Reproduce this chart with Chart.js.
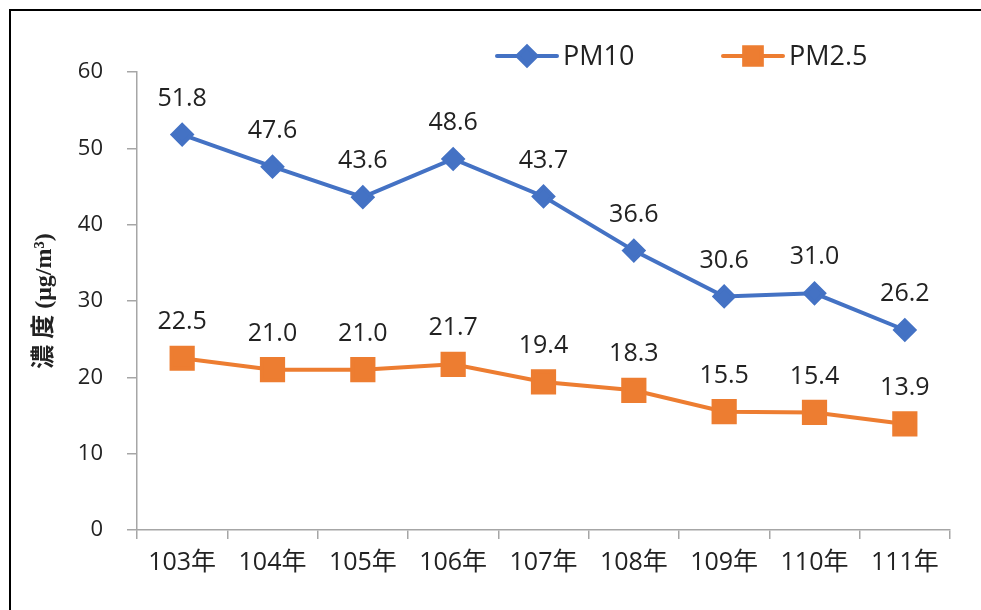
<!DOCTYPE html>
<html>
<head>
<meta charset="utf-8">
<script src="https://cdn.jsdelivr.net/npm/chart.js@4.4.0/dist/chart.umd.min.js"></script>
<style>
  html, body { margin: 0; padding: 0; background: #fff; overflow: hidden; }
</style>
</head>
<body>
<canvas id="myChart" width="981" height="610"></canvas>
<script>
// 年度
const years = ['103年', '104年', '105年', '106年', '107年', '108年', '109年', '110年', '111年'];
// 年平均濃度 (μg/m3)
const pm10 = [51.8, 47.6, 43.6, 48.6, 43.7, 36.6, 30.6, 31.0, 26.2];
const pm25 = [22.5, 21.0, 21.0, 21.7, 19.4, 18.3, 15.5, 15.4, 13.9];
const yMin = 0, yMax = 60, yStep = 10;

const textColor = '#222';
const axisColor = '#a6a6a6';
const fontFamily = '"Open Sans", "Noto Sans CJK TC", sans-serif';

// 外框 (只看得到左邊跟上面)
const marco = {
    id: 'marco',
    beforeDraw(chart) {
        const ctx = chart.ctx;
        ctx.save();
        ctx.fillStyle = '#fff';
        ctx.fillRect(0, 0, chart.width, chart.height);
        ctx.strokeStyle = '#000';
        ctx.lineWidth = 2;
        ctx.beginPath();
        ctx.moveTo(10, chart.height);
        ctx.lineTo(10, 10);
        ctx.lineTo(chart.width, 10);
        ctx.stroke();
        ctx.restore();
    }
};

// 數值標籤
const etiquetas = {
    id: 'etiquetas',
    afterDatasetsDraw(chart) {
        const ctx = chart.ctx;
        ctx.save();
        ctx.font = '25px ' + fontFamily;
        ctx.fillStyle = textColor;
        ctx.textAlign = 'center';
        ctx.textBaseline = 'middle';
        chart.data.datasets.forEach((ds, i) => {
            chart.getDatasetMeta(i).data.forEach((pt, j) => {
                ctx.fillText(ds.data[j].toFixed(1), pt.x, pt.y - 36);
            });
        });
        ctx.restore();
    }
};

// 圖例 + 縱軸標題
const leyenda = {
    id: 'leyenda',
    afterDraw(chart) {
        const ctx = chart.ctx;
        const pos = [{ x: 497, y: 56 }, { x: 723, y: 56 }];
        ctx.save();
        chart.data.datasets.forEach((ds, i) => {
            const p = pos[i];
            ctx.strokeStyle = ds.borderColor;
            ctx.fillStyle = ds.backgroundColor;
            ctx.lineWidth = 4;
            ctx.lineCap = 'round';
            ctx.beginPath();
            ctx.moveTo(p.x, p.y);
            ctx.lineTo(p.x + 60, p.y);
            ctx.stroke();
            Chart.helpers.drawPoint(ctx, {
                pointStyle: ds.pointStyle,
                radius: ds.legendRadius,
                rotation: 0,
                borderWidth: 1
            }, p.x + 30, p.y);
            ctx.fillStyle = textColor;
            ctx.font = '27px ' + fontFamily;
            ctx.textAlign = 'left';
            ctx.textBaseline = 'middle';
            ctx.fillText(ds.label, p.x + 66, p.y + 1);
        });

        ctx.translate(45, 301);
        ctx.rotate(-Math.PI / 2);
        ctx.font = 'bold 24px "Liberation Serif", "Noto Sans CJK TC", serif';
        ctx.fillStyle = textColor;
        ctx.textAlign = 'center';
        ctx.textBaseline = 'middle';
        ctx.fillText('濃 度 (μg/m³)', 0, 0);
        ctx.restore();
    }
};

const ctx = document.getElementById('myChart');
const myChart = new Chart(ctx, {
    type: 'line',
    data: {
        labels: years,
        datasets: [{
            label: 'PM10',
            data: pm10,
            borderColor: '#4472C4',
            backgroundColor: '#4472C4',
            borderWidth: 4,
            pointStyle: 'rectRot',
            pointRadius: 9.5,
            pointHoverRadius: 9.5,
            legendRadius: 9.5,
            tension: 0
        }, {
            label: 'PM2.5',
            data: pm25,
            borderColor: '#ED7D31',
            backgroundColor: '#ED7D31',
            borderWidth: 4,
            pointStyle: 'rect',
            pointRadius: 15,
            pointHoverRadius: 15,
            legendRadius: 12.5,
            tension: 0
        }]
    },
    options: {
        responsive: false,
        animation: false,
        layout: { padding: { top: 72, right: 31, left: 0, bottom: 0 } },
        plugins: {
            legend: { display: false },
            tooltip: { enabled: false }
        },
        scales: {
            x: {
                offset: true,
                grid: {
                    offset: true,
                    drawOnChartArea: false,
                    tickLength: 9,
                    color: axisColor,
                    lineWidth: 1.5
                },
                border: { color: axisColor, width: 1.5 },
                ticks: {
                    color: textColor,
                    font: { size: 25, family: fontFamily },
                    padding: 9,
                    maxRotation: 0,
                    autoSkip: false
                },
                afterFit(scale) { scale.height = 80; }
            },
            y: {
                min: yMin,
                max: yMax,
                grid: {
                    drawOnChartArea: false,
                    tickLength: 10,
                    color: axisColor,
                    lineWidth: 1.5
                },
                border: { color: axisColor, width: 1.5 },
                ticks: {
                    stepSize: yStep,
                    color: textColor,
                    font: { size: 22, family: fontFamily },
                    padding: 24
                },
                afterFit(scale) { scale.width = 137; }
            }
        }
    },
    plugins: [marco, etiquetas, leyenda]
});
</script>
</body>
</html>
